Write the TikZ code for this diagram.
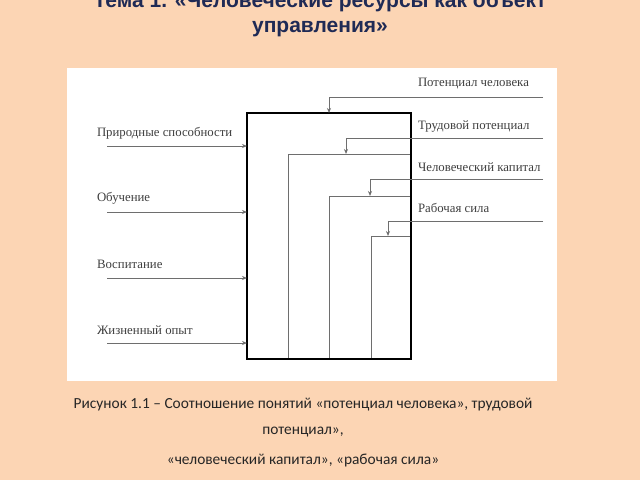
\documentclass[tikz,border=0pt]{standalone}
\usepackage{fontspec}
\setmainfont{Liberation Serif}
\newfontfamily\captfont{Carlito}
\newfontfamily\titlefont{Liberation Sans}
\usetikzlibrary{arrows.meta}
\definecolor{peach}{HTML}{FCD5B4}
\definecolor{titleblue}{HTML}{1F2A55}
\definecolor{labgray}{HTML}{3F3F3F}
\definecolor{linegray}{HTML}{6E6E6E}
\begin{document}
\begin{tikzpicture}[x=1pt,y=-1pt]
    \tikzstyle{every node}=[inner sep=0pt,outer sep=0pt];
    \tikzstyle{lab}=[anchor=west,text=labgray,font=\fontsize{12.8}{14}\selectfont];
    \tikzstyle{titletext}=[anchor=base,text=titleblue,font=\titlefont\bfseries\fontsize{21}{24}\selectfont];
    \tikzstyle{captext}=[text=black!85,font=\captfont\fontsize{15.4}{18}\selectfont];
    \tikzstyle{inarrow}=[draw=linegray,line width=0.9pt,-{Stealth[length=5pt,width=4pt]}];
    \tikzstyle{outarrow}=[draw=linegray,line width=0.9pt,-{Stealth[length=5pt,width=4pt]}];
    \tikzstyle{inner}=[draw=linegray,line width=0.8pt];
    \clip (0,0) rectangle (640,480);
    \fill[peach] (0,0) rectangle (640,480);
    \fill[white] (67,68) rectangle (557,381);

    \node at (320,7) (title1) [titletext] {Тема 1. «Человеческие ресурсы как объект};
    \node at (320,32) (title2) [titletext] {управления»};

    \coordinate (r1) at (288,154);
    \coordinate (r2) at (329,196);
    \coordinate (r3) at (371,236);
    \node at (329,236) (box) [minimum width=164,minimum height=246] {};
    \draw[inner] (r1) rectangle (box.south east);
    \draw[inner] (r2) rectangle (box.south east);
    \draw[inner] (r3) rectangle (box.south east);
    \draw[black,line width=1.5pt] (box.north west) rectangle (box.south east);

    \node at (97,133) (l1) [lab] {Природные способности};
    \node at (97,198) (l2) [lab] {Обучение};
    \node at (97,264) (l3) [lab] {Воспитание};
    \node at (97,330) (l4) [lab] {Жизненный опыт};
    \coordinate (i1) at (107,146);
    \coordinate (i2) at (107,212);
    \coordinate (i3) at (107,278);
    \coordinate (i4) at (107,343);
    \draw[inarrow] (i1) -- (i1 -| box.west);
    \draw[inarrow] (i2) -- (i2 -| box.west);
    \draw[inarrow] (i3) -- (i3 -| box.west);
    \draw[inarrow] (i4) -- (i4 -| box.west);

    \node at (418,84) (o1) [lab] {Потенциал человека};
    \node at (418,126) (o2) [lab] {Трудовой потенциал};
    \node at (418,167) (o3) [lab] {Человеческий капитал};
    \node at (418,208) (o4) [lab] {Рабочая сила};
    \coordinate (e1) at (543,97);
    \coordinate (e2) at (543,138);
    \coordinate (e3) at (543,179);
    \coordinate (e4) at (543,221);
    \coordinate (t2) at (346,154);
    \coordinate (t3) at (370,196);
    \coordinate (t4) at (388,236);
    \draw[outarrow] (e1) -| (box.north);
    \draw[outarrow] (e2) -| (t2);
    \draw[outarrow] (e3) -| (t3);
    \draw[outarrow] (e4) -| (t4);

    \node at (303,405) (cap1) [captext] {Рисунок 1.1 – Соотношение понятий «потенциал человека», трудовой};
    \node at (303,432) (cap2) [captext] {потенциал»,};
    \node at (303,460) (cap3) [captext] {«человеческий капитал», «рабочая сила»};
\end{tikzpicture}
\end{document}
